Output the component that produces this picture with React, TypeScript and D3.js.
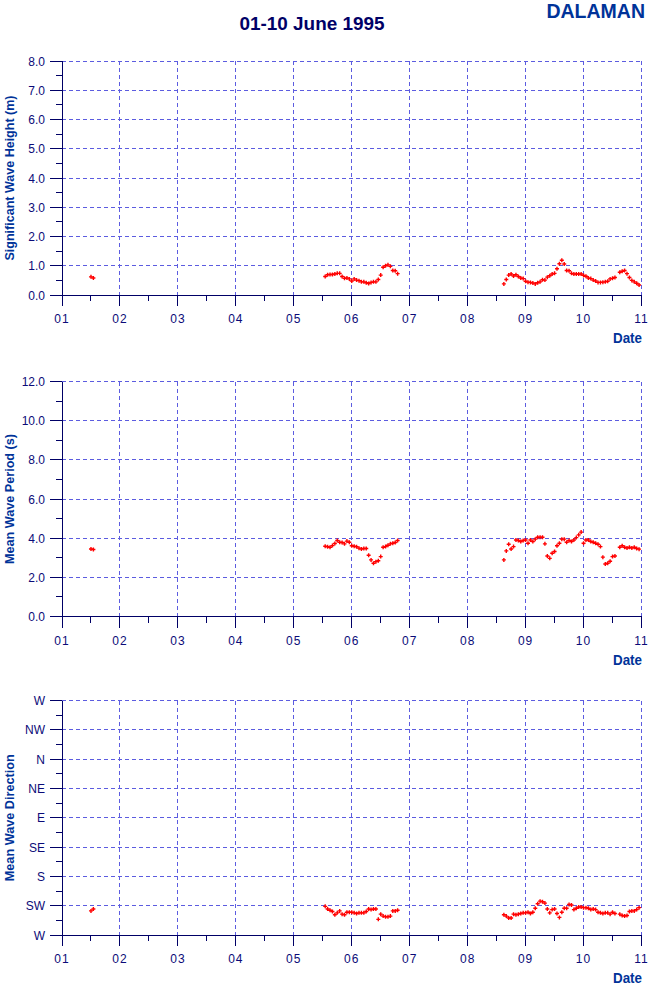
import React from "react";
import * as d3 from "d3";

// ---------- data ----------
const TITLE = "01-10 June 1995";
const STATION = "DALAMAN";
const DAY_LABELS = ["01", "02", "03", "04", "05", "06", "07", "08", "09", "10", "11"];

// observation times, hours since 01 June 00:00
const hoursA = [12, 13];
const hoursB = [109, 110, 111, 112, 113, 114, 115, 116, 117, 118, 119, 120, 121, 122, 123, 124, 125, 126, 127, 128, 129, 130, 131, 132, 133, 134, 135, 136, 137, 138, 139];
const hoursC = [183, 184, 185, 186, 187, 188, 189, 190, 191, 192, 193, 194, 195, 196, 197, 198, 199, 200, 201, 202, 203, 204, 205, 206, 207, 208, 209, 210, 211, 212, 213, 214, 215, 216, 217, 218, 219, 220, 221, 222, 223, 224, 225, 226, 227, 228, 229, 231, 232, 233, 234, 235, 236, 237, 238, 239];

// significant wave height (m)
const hsA = [0.62, 0.58];
const hsB = [0.63, 0.69, 0.70, 0.70, 0.72, 0.74, 0.74, 0.63, 0.57, 0.58, 0.55, 0.48, 0.55, 0.51, 0.49, 0.45, 0.45, 0.42, 0.39, 0.43, 0.45, 0.45, 0.53, 0.68, 0.95, 1.00, 1.03, 0.98, 0.84, 0.83, 0.73];
const hsC = [0.38, 0.53, 0.68, 0.72, 0.65, 0.69, 0.63, 0.58, 0.56, 0.47, 0.44, 0.43, 0.41, 0.38, 0.42, 0.45, 0.52, 0.51, 0.61, 0.66, 0.72, 0.74, 0.90, 1.07, 1.19, 1.06, 0.84, 0.83, 0.74, 0.72, 0.72, 0.72, 0.72, 0.67, 0.64, 0.58, 0.56, 0.51, 0.48, 0.43, 0.43, 0.44, 0.45, 0.47, 0.55, 0.57, 0.60, 0.78, 0.81, 0.84, 0.73, 0.60, 0.50, 0.45, 0.40, 0.34];

// mean wave period (s)
const tmA = [3.45, 3.42];
const tmB = [3.59, 3.56, 3.54, 3.62, 3.73, 3.88, 3.79, 3.78, 3.71, 3.85, 3.79, 3.61, 3.59, 3.56, 3.49, 3.45, 3.47, 3.47, 3.13, 2.89, 2.72, 2.80, 2.85, 3.06, 3.54, 3.57, 3.64, 3.71, 3.74, 3.78, 3.88];
const tmC = [2.89, 3.35, 3.69, 3.45, 3.57, 3.91, 3.88, 3.83, 3.88, 3.91, 3.74, 3.91, 3.83, 3.95, 4.05, 4.05, 4.05, 3.71, 3.09, 2.97, 3.23, 3.32, 3.61, 3.74, 3.95, 3.95, 3.79, 3.88, 3.83, 3.91, 4.03, 4.17, 4.31, 3.74, 3.91, 3.91, 3.83, 3.79, 3.74, 3.69, 3.57, 3.03, 2.68, 2.72, 2.82, 3.06, 3.09, 3.54, 3.61, 3.54, 3.50, 3.54, 3.50, 3.54, 3.47, 3.44];

// mean wave direction (degrees)
const dirA = [233, 230];
const dirB = [226, 230, 232, 234, 239, 236, 233, 238, 239, 235, 235, 235, 236, 237, 236, 236, 236, 234, 230, 231, 230, 230, 246, 238, 241, 242, 242, 241, 233, 233, 232];
const dirC = [239, 241, 244, 244, 238, 239, 238, 237, 236, 236, 235, 237, 235, 229, 222, 218, 219, 221, 230, 236, 231, 230, 237, 243, 235, 229, 229, 223, 224, 231, 229, 227, 227, 228, 228, 229, 231, 230, 231, 235, 236, 237, 236, 236, 238, 235, 237, 238, 240, 241, 240, 234, 233, 233, 231, 228];

const HS_TICKS = [0, 1, 2, 3, 4, 5, 6, 7, 8];
const TM_TICKS = [0, 2, 4, 6, 8, 10, 12];
const DIR_TICKS = [270, 225, 180, 135, 90, 45, 0, -45, -90];
const DIR_LABELS = ["W", "SW", "S", "SE", "E", "NE", "N", "NW", "W"];

// ---------- styling ----------
const AXIS = "#000066";
const TICKTXT = "#0b0b78";
const GRID = "#5c5ce0";
const LABEL = "#003399";
const FONT = "'Liberation Sans', Arial, sans-serif";

const X0 = 62;
const X1 = 641.5;

const x = d3.scaleLinear().domain([0, 240]).range([X0, X1]);

function concat(a: number[], b: number[], c: number[]) {
  return [...a, ...b, ...c];
}
const allHours = concat(hoursA, hoursB, hoursC);

type PanelDef = {
  top: number;
  bottom: number;
  domain: [number, number];
  ticks: number[];
  labels: string[];
  values: number[];
  title: string;
  titleLen: number;
};

const panels: PanelDef[] = [
  {
    top: 61, bottom: 295, domain: [0, 8], ticks: HS_TICKS,
    labels: HS_TICKS.map((d) => d.toFixed(1)),
    values: concat(hsA, hsB, hsC),
    title: "Significant Wave Height (m)", titleLen: 165,
  },
  {
    top: 381.5, bottom: 616.5, domain: [0, 12], ticks: TM_TICKS,
    labels: TM_TICKS.map((d) => d.toFixed(1)),
    values: concat(tmA, tmB, tmC),
    title: "Mean Wave Period (s)", titleLen: 130,
  },
  {
    top: 700.5, bottom: 935, domain: [270, -90], ticks: DIR_TICKS,
    labels: DIR_LABELS,
    values: concat(dirA, dirB, dirC),
    title: "Mean Wave Direction", titleLen: 127,
  },
];

function Panel({ p }: { p: PanelDef }) {
  const y = d3.scaleLinear().domain(p.domain).range([p.bottom, p.top]);
  const minors = p.ticks.slice(1).map((t, i) => (t + p.ticks[i]) / 2);
  const days = d3.range(0, 11);
  const halfDays = d3.range(0, 10).map((d) => d + 0.5);
  const midY = (p.top + p.bottom) / 2;
  return (
    <g>
      {/* grid */}
      {p.ticks.slice(1).map((t, i) => (
        <line key={"hg" + i} x1={X0} x2={X1} y1={y(t)} y2={y(t)} stroke={GRID} strokeDasharray="4,3" shapeRendering="crispEdges" />
      ))}
      {days.slice(1).map((d) => (
        <line key={"vg" + d} x1={x(d * 24)} x2={x(d * 24)} y1={p.top} y2={p.bottom} stroke={GRID} strokeDasharray="4,3" shapeRendering="crispEdges" />
      ))}
      {/* axes */}
      <line x1={X0} x2={X0} y1={p.top} y2={p.bottom} stroke={AXIS} shapeRendering="crispEdges" />
      <line x1={X0} x2={X1} y1={p.bottom} y2={p.bottom} stroke={AXIS} shapeRendering="crispEdges" />
      {/* y ticks */}
      {p.ticks.map((t, i) => (
        <g key={"yt" + i}>
          <line x1={50} x2={X0} y1={y(t)} y2={y(t)} stroke={AXIS} shapeRendering="crispEdges" />
          <text x={45} y={y(t) + 4.5} textAnchor="end" fontSize={12} fill={TICKTXT} fontFamily={FONT}>{p.labels[i]}</text>
        </g>
      ))}
      {minors.map((t, i) => (
        <line key={"ym" + i} x1={56} x2={X0} y1={y(t)} y2={y(t)} stroke={AXIS} shapeRendering="crispEdges" />
      ))}
      {/* x ticks */}
      {days.map((d) => (
        <g key={"xt" + d}>
          <line x1={x(d * 24)} x2={x(d * 24)} y1={p.bottom} y2={p.bottom + 11} stroke={AXIS} shapeRendering="crispEdges" />
          <text x={x(d * 24)} y={p.bottom + 28} textAnchor="middle" fontSize={12} letterSpacing={1} fill={TICKTXT} fontFamily={FONT}>{DAY_LABELS[d]}</text>
        </g>
      ))}
      {halfDays.map((d) => (
        <line key={"xm" + d} x1={x(d * 24)} x2={x(d * 24)} y1={p.bottom} y2={p.bottom + 6} stroke={AXIS} shapeRendering="crispEdges" />
      ))}
      <text x={642} y={p.bottom + 48} textAnchor="end" fontSize={14} fontWeight="bold" fill={LABEL} fontFamily={FONT} textLength={29} lengthAdjust="spacingAndGlyphs">Date</text>
      <text transform={`translate(14,${midY}) rotate(-90)`} textAnchor="middle" fontSize={13} fontWeight="bold" fill={LABEL} fontFamily={FONT} textLength={p.titleLen} lengthAdjust="spacingAndGlyphs">{p.title}</text>
      {/* points */}
      {p.values.map((v, i) => {
        const cx = x(allHours[i]);
        const cy = y(v);
        return <path key={"pt" + i} d={`M${cx - 2},${cy}h4M${cx},${cy - 2}v4`} stroke="#ff0000" strokeWidth={1.4} />;
      })}
    </g>
  );
}

export default function App() {
  return (
    <svg width={650} height={986} style={{ position: "absolute", left: 0, top: 0, background: "#fff" }}>
      <rect x={0} y={0} width={650} height={986} fill="#fff" />
      <text x={312} y={29.5} textAnchor="middle" fontSize={17.5} fontWeight="bold" fill="#000066" fontFamily={FONT} textLength={145} lengthAdjust="spacingAndGlyphs">{TITLE}</text>
      <text x={645} y={18} textAnchor="end" fontSize={19.5} fontWeight="bold" fill={LABEL} fontFamily={FONT}>{STATION}</text>
      {panels.map((p, i) => (
        <Panel key={i} p={p} />
      ))}
    </svg>
  );
}
